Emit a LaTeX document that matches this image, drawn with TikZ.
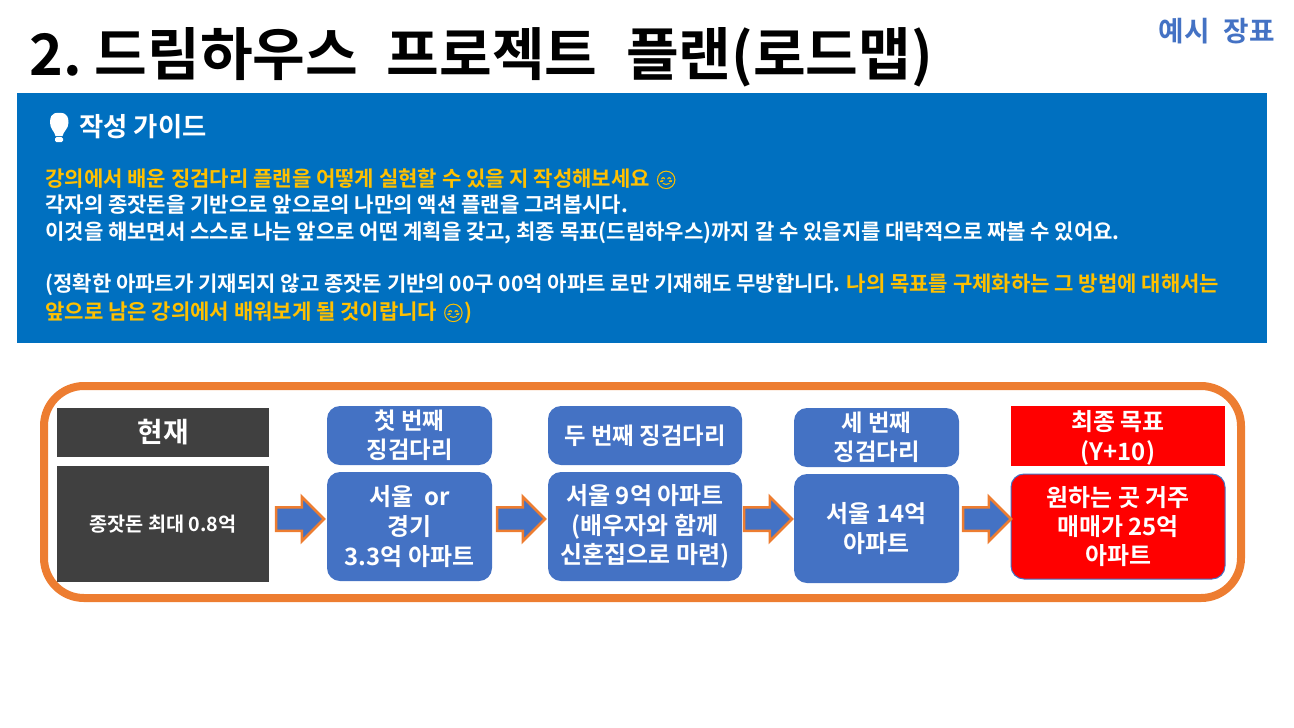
\documentclass[tikz,border=0pt]{standalone}
\usepackage{fontspec}
\setmainfont{Noto Sans CJK KR}[BoldFont=* Bold]
\newfontfamily\widefont{Noto Sans CJK KR}[BoldFont=* Bold, WordSpace=2.2]
\newfontfamily\emojifont{Noto Emoji}[FakeBold=1, Scale=0.85]
\usetikzlibrary{arrows.meta, positioning, shapes.arrows, calc}

\definecolor{guideblue}{HTML}{0070C0}
\definecolor{stepblue}{HTML}{4472C4}
\definecolor{frameorange}{HTML}{ED7D31}
\definecolor{guideyellow}{HTML}{FFC000}
\definecolor{darkgray}{HTML}{404040}

\begin{document}
\begin{tikzpicture}[
    guidetext/.style={font=\fontsize{11.98}{14}\selectfont\bfseries, text=white, anchor=base west, inner sep=0pt},
    guidehigh/.style={guidetext, text=guideyellow},
    stepbox/.style={fill=stepblue, text=white, rounded corners=0.26cm, align=center, inner sep=0pt,
        font=\fontsize{13.3}{16.4}\selectfont\bfseries},
    stepbody/.style={stepbox, font=\fontsize{13.6}{16.9}\selectfont\bfseries},
    darkbox/.style={fill=darkgray, text=white, align=center, inner sep=0pt},
    goalbox/.style={fill=red, text=white, align=center, inner sep=0pt,
        font=\fontsize{13.6}{16.6}\selectfont\bfseries},
    blockarrow/.style={single arrow, draw=frameorange, fill=stepblue, line width=0.05cm,
        minimum width=0.84cm, minimum height=0.96cm, single arrow head extend=0.21cm,
        inner xsep=0pt, inner ysep=0.21cm, outer sep=0pt, anchor=tip},
]
    \useasboundingbox (0,0) rectangle (25.88,-14.54);

    % Page title and tag
    \node[font=\widefont\fontsize{32.6}{36}\selectfont\bfseries, anchor=base west, inner sep=0pt] (title) at (0.58,-1.5)
        {2.\hspace{-0.4cm} 드림하우스 프로젝트 플랜(로드맵)};
    \node[font=\widefont\fontsize{15.8}{17}\selectfont\bfseries, text=stepblue, anchor=base east, inner sep=0pt] (tag) at (25.5,-0.82)
        {예시 장표};

    % Guide panel
    \node[fill=guideblue, minimum width=25cm, minimum height=5cm, inner sep=0pt, outer sep=0pt, anchor=north west] (guide) at (0.34,-1.86) {};
    \fill[white] (1.0,-2.45) .. controls (1.0,-2.22) and (1.16,-2.26) .. (1.18,-2.26)
        .. controls (1.2,-2.26) and (1.37,-2.22) .. (1.37,-2.45)
        .. controls (1.37,-2.58) and (1.27,-2.62) .. (1.25,-2.72) -- (1.11,-2.72)
        .. controls (1.09,-2.62) and (1.0,-2.58) .. (1.0,-2.45) -- cycle;
    \fill[white, rounded corners=0.03cm] (1.1,-2.74) rectangle (1.26,-2.84);
    \node[font=\fontsize{15}{17}\selectfont\bfseries, text=white, anchor=base west, inner sep=0pt] (guidetitle) at (1.58,-2.72) {작성 가이드};

    \node[guidehigh] (lineA) at (0.9,-3.72) {강의에서 배운 징검다리 플랜을 어떻게 실현할 수 있을 지 작성해보세요 {\emojifont 😊}};
    \node[guidetext] (lineB) at (0.9,-4.25) {각자의 종잣돈을 기반으로 앞으로의 나만의 액션 플랜을 그려봅시다.};
    \node[guidetext] (lineC) at (0.9,-4.78) {이것을 해보면서 스스로 나는 앞으로 어떤 계획을 갖고, 최종 목표(드림하우스)까지 갈 수 있을지를 대략적으로 짜볼 수 있어요.};
    \node[guidetext] (lineD) at (0.9,-5.82) {(정확한 아파트가 기재되지 않고 종잣돈 기반의 00구 00억 아파트 로만 기재해도 무방합니다. \textcolor{guideyellow}{나의 목표를 구체화하는 그 방법에 대해서는}};
    \node[guidehigh] (lineE) at (0.9,-6.38) {앞으로 남은 강의에서 배워보게 될 것이랍니다 {\emojifont 😊})};

    % Orange frame round the roadmap
    \draw[frameorange, line width=0.16cm, rounded corners=0.8cm] (0.88,-7.72) rectangle (24.82,-11.96);

    % Current state
    \node[darkbox, minimum width=4.24cm, minimum height=0.98cm, font=\fontsize{15.8}{18}\selectfont\bfseries] (nowhead) at (3.26,-8.65) {현재};
    \node[darkbox, minimum width=4.24cm, minimum height=2.32cm, font=\fontsize{11.2}{13}\selectfont\bfseries] (nowbody) at (3.26,-10.48) {종잣돈 최대 0.8억};

    % First stepping stone
    \node[stepbox, minimum width=3.3cm, minimum height=1.18cm] (firsthead) at (8.19,-8.71) {첫 번째\\징검다리};
    \node[stepbody, minimum width=3.3cm, minimum height=2.18cm] (firstbody) at (8.19,-10.53) {서울\ \ or\\경기\\3.3억 아파트};

    % Second stepping stone
    \node[stepbox, minimum width=3.88cm, minimum height=1.18cm] (secondhead) at (12.9,-8.71) {두 번째 징검다리};
    \node[stepbody, minimum width=3.88cm, minimum height=2.18cm] (secondbody) at (12.9,-10.53) {서울 9억 아파트\\(배우자와 함께\\신혼집으로 마련)};

    % Third stepping stone
    \node[stepbox, minimum width=3.3cm, minimum height=1.18cm] (thirdhead) at (17.53,-8.75) {세 번째\\징검다리};
    \node[stepbody, minimum width=3.3cm, minimum height=2.18cm] (thirdbody) at (17.53,-10.57) {서울 14억\\아파트};

    % Final goal
    \node[goalbox, minimum width=4.28cm, minimum height=1.2cm] (goalhead) at (22.36,-8.72) {\rule{0pt}{1em}최종 목표\\(Y+10)};
    \node[goalbox, draw=stepblue, line width=0.02cm, rounded corners=0.26cm, minimum width=4.28cm, minimum height=2.1cm] (goalbody) at (22.36,-10.53) {원하는 곳 거주\\매매가 25억\\아파트};

    % Block arrows between the columns
    \node[blockarrow] (arrowA) at (6.48,-10.38) {};
    \node[blockarrow] (arrowB) at (10.9,-10.38) {};
    \node[blockarrow] (arrowC) at (15.84,-10.38) {};
    \node[blockarrow] (arrowD) at (20.22,-10.38) {};

\end{tikzpicture}
\end{document}
